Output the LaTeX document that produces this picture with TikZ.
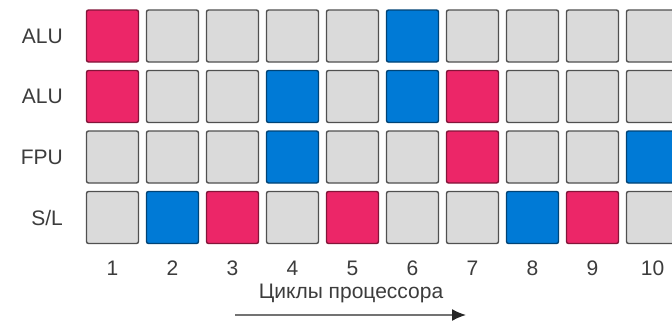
\documentclass[tikz,border=0pt]{standalone}
\usepackage{fontspec}
\setmainfont{Liberation Sans}
\usetikzlibrary{arrows.meta}
\definecolor{cpink}{RGB}{236,38,104}
\definecolor{cblue}{RGB}{0,122,214}
\definecolor{cgray}{RGB}{218,218,218}
\definecolor{cedge}{RGB}{80,80,80}
\definecolor{ctext}{RGB}{60,60,60}
\tikzset{
  cell/.style={draw=cedge, line width=1.4pt, rounded corners=2pt, minimum width=52pt, minimum height=52pt, inner sep=0pt, fill=cgray},
  pinkcell/.style={cell, fill=cpink, draw=cpink!55!black},
  bluecell/.style={cell, fill=cblue, draw=cblue!55!black},
  lbl/.style={text=ctext, font=\fontsize{21}{23}\selectfont, inner sep=0pt},
}
\begin{document}
\begin{tikzpicture}[x=1pt,y=-1pt]
\useasboundingbox (0,0) rectangle (672,324);
\clip (0,0) rectangle (672,324);
\fill[white] (0,0) rectangle (672,324);
% row labels
\node[lbl, anchor=east] (l1) at (63,36) {ALU};
\node[lbl, anchor=east] (l2) at (63,96.5) {ALU};
\node[lbl, anchor=east] (l3) at (63,157) {FPU};
\node[lbl, anchor=east] (l4) at (63,217.5) {S/L};
% cells
\foreach \r/\row in {1/{p,g,g,g,g,b,g,g,g,g},2/{p,g,g,b,g,b,p,g,g,g},3/{g,g,g,b,g,g,p,g,g,b},4/{g,b,p,g,p,g,g,b,p,g}}{
  \foreach \t [count=\c] in \row {
    \pgfmathsetmacro{\cx}{112.5+60*(\c-1)}
    \pgfmathsetmacro{\cy}{36+60.5*(\r-1)}
    \if\t p\def\sty{pinkcell}\else\if\t b\def\sty{bluecell}\else\def\sty{cell}\fi\fi
    \node[\sty] (b-\r-\c) at (\cx,\cy) {};
  }
}
% column numbers
\foreach \c in {1,...,10}{
  \pgfmathsetmacro{\cx}{112.5+60*(\c-1)}
  \node[lbl] (n\c) at (\cx,268) {\c};
}
\node[lbl] (cap) at (351,293) {Циклы процессора};
\coordinate (a0) at (235,315);
\coordinate (a1) at (466,315);
\draw[line width=1.6pt, draw=black!55, -{Latex[length=14pt,width=12pt,color=black!85]}] (a0) -- (a1);
\end{tikzpicture}
\end{document}
